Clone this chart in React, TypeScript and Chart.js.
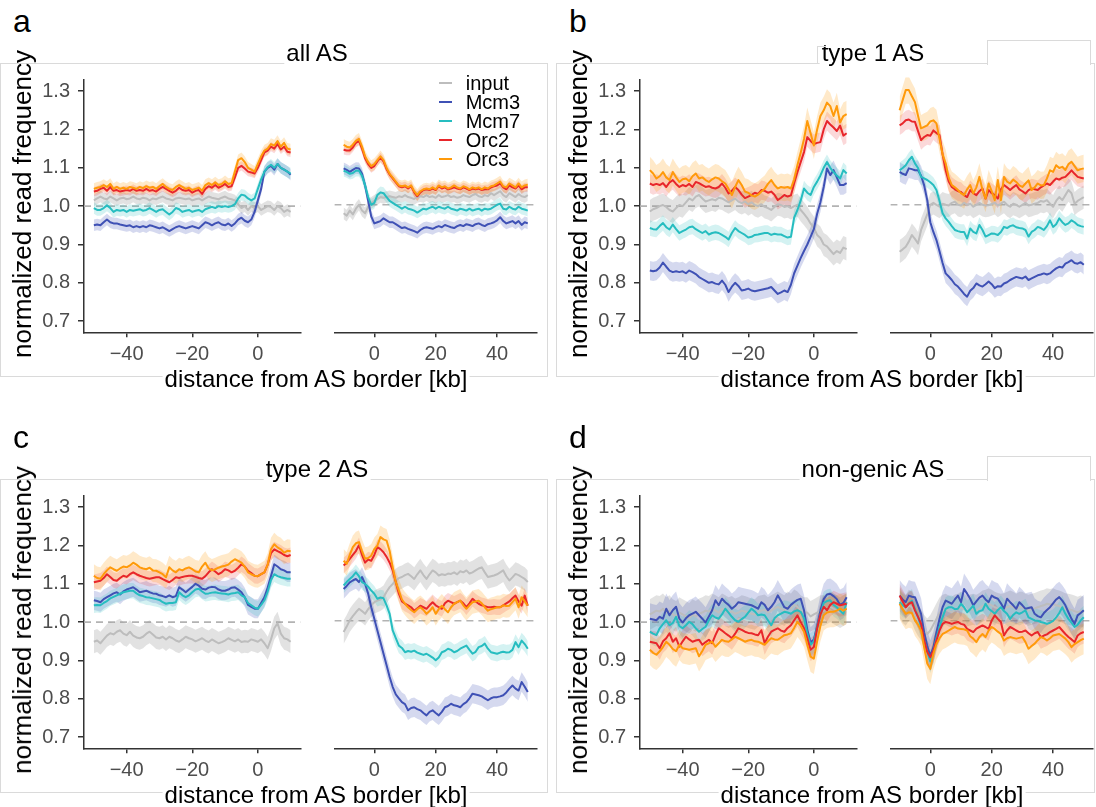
import React, { useEffect, useRef } from "react";
import { Chart, registerables } from "chart.js";
Chart.register(...registerables);

const FONT = "'Liberation Sans', Arial, Helvetica, sans-serif";
const SERIES = ["input", "Mcm3", "Mcm7", "Orc2", "Orc3"];
const LINE_COLORS = ["#BDBDBD", "#3F51B5", "#26BDC0", "#E8262B", "#FF9A0A"];
const BAND_COLORS = [
  "rgba(150,150,150,0.28)",
  "rgba(63,81,181,0.22)",
  "rgba(38,189,192,0.2)",
  "rgba(232,38,43,0.18)",
  "rgba(255,154,10,0.22)",
];
const Y_TICKS = [0.7, 0.8, 0.9, 1.0, 1.1, 1.2, 1.3];
const X_TICKS_LEFT = [-40, -20, 0];
const X_TICKS_RIGHT = [0, 20, 40];
const KB_LEFT = Array.from({ length: 61 }, (_, i) => i - 50);
const KB_RIGHT = Array.from({ length: 61 }, (_, i) => i - 10);
const X_RANGE_LEFT = [-53, 13];
const X_RANGE_RIGHT = [-13, 53];
const Y_RANGE = [0.671, 1.329];

// ---------- panel a: all AS ----------
const aLeftInput = [1.015,1.02,1.025,1.02,1.018,1.025,1.02,1.015,1.02,1.022, 1.018,1.02,1.025,1.02,1.018,1.022,1.02,1.015,1.02,1.018, 1.022,1.025,1.02,1.018,1.015,1.02,1.022,1.02,1.018,1.02, 1.015,1.018,1.02,1.015,1.02,1.025,1.022,1.02,1.018,1.022, 1.025,1.02,1.018,1.015,1.005,0.995,1.0,0.99,1.0,0.995, 1.0,0.99,0.995,1.0,0.998,0.99,1.0,0.995,0.985,0.99,0.985];
const aLeftMcm3 = [0.95,0.952,0.95,0.958,0.965,0.958,0.955,0.955,0.952,0.95, 0.948,0.95,0.945,0.948,0.945,0.948,0.945,0.95,0.948,0.945, 0.942,0.945,0.94,0.935,0.94,0.945,0.948,0.945,0.942,0.945, 0.948,0.945,0.942,0.95,0.958,0.955,0.95,0.955,0.958,0.952, 0.95,0.955,0.948,0.955,0.965,0.97,0.962,0.958,0.965,0.985, 1.015,1.045,1.09,1.1,1.105,1.095,1.11,1.1,1.095,1.09,1.082];
const aLeftMcm7 = [0.995,0.99,0.99,0.995,1.002,0.995,0.985,0.99,0.988,0.99, 0.985,0.99,0.988,0.99,0.992,0.988,0.99,0.995,0.99,0.985, 0.99,0.992,0.985,0.978,0.985,0.995,0.992,0.985,0.988,0.99, 0.985,0.988,0.99,0.985,0.992,0.995,0.998,0.995,1.0,0.998, 1.0,0.998,1.0,1.005,1.02,1.03,1.028,1.02,1.015,1.02, 1.045,1.07,1.09,1.102,1.108,1.1,1.11,1.1,1.095,1.09,1.085];
const aLeftOrc2 = [1.038,1.04,1.045,1.048,1.04,1.05,1.04,1.042,1.038,1.04, 1.042,1.04,1.045,1.04,1.042,1.04,1.045,1.04,1.042,1.038, 1.045,1.05,1.045,1.04,1.035,1.04,1.048,1.042,1.04,1.042, 1.035,1.04,1.042,1.032,1.045,1.052,1.048,1.055,1.048,1.052, 1.058,1.05,1.052,1.075,1.1,1.105,1.098,1.09,1.088,1.085, 1.1,1.12,1.14,1.145,1.155,1.15,1.162,1.148,1.155,1.142,1.14];
const aLeftOrc3 = [1.045,1.048,1.05,1.055,1.05,1.058,1.045,1.05,1.045,1.048, 1.045,1.05,1.048,1.045,1.05,1.047,1.052,1.048,1.05,1.045, 1.052,1.058,1.05,1.045,1.042,1.05,1.055,1.05,1.045,1.048, 1.042,1.045,1.048,1.04,1.055,1.06,1.055,1.062,1.055,1.058, 1.065,1.058,1.06,1.09,1.12,1.125,1.115,1.1,1.095,1.09, 1.11,1.13,1.145,1.15,1.162,1.158,1.17,1.155,1.165,1.15,1.148];
const aRightInput = [0.978,0.972,0.985,0.975,0.99,1.0,0.985,0.978,0.995,1.005, 1.01,1.015,1.02,1.018,1.02,1.022,1.02,1.018,1.022,1.02, 1.025,1.02,1.018,1.015,1.02,1.022,1.02,1.025,1.02,1.022, 1.018,1.025,1.02,1.022,1.025,1.02,1.022,1.018,1.02,1.025, 1.022,1.02,1.025,1.028,1.022,1.02,1.025,1.022,1.03,1.025, 1.03,1.035,1.025,1.02,1.03,1.025,1.02,1.028,1.022,1.02,1.025];
const aRightMcm3 = [1.094,1.09,1.085,1.09,1.095,1.094,1.08,1.05,1.01,0.97, 0.952,0.955,0.958,0.965,0.96,0.955,0.955,0.95,0.945,0.94, 0.942,0.938,0.935,0.932,0.928,0.935,0.94,0.942,0.94,0.938, 0.942,0.945,0.942,0.948,0.945,0.942,0.94,0.945,0.948,0.945, 0.95,0.948,0.945,0.95,0.952,0.948,0.945,0.95,0.952,0.955, 0.96,0.968,0.958,0.952,0.955,0.958,0.952,0.958,0.948,0.955,0.952];
const aRightMcm7 = [1.088,1.085,1.08,1.082,1.088,1.088,1.075,1.05,1.02,1.0, 1.005,1.025,1.032,1.03,1.02,1.01,1.005,1.0,0.995,0.99, 0.995,0.99,0.988,0.985,0.98,0.985,0.99,0.988,0.992,0.995, 0.99,0.995,0.992,0.99,0.995,0.99,0.988,0.985,0.99,0.988, 0.985,0.99,0.985,0.988,0.99,0.985,0.99,0.988,0.99,0.995, 1.0,1.003,0.99,0.988,0.995,0.99,0.988,0.995,0.99,0.988,0.985];
const aRightOrc2 = [1.142,1.14,1.14,1.148,1.16,1.165,1.145,1.12,1.105,1.095, 1.1,1.112,1.122,1.112,1.092,1.078,1.068,1.058,1.048,1.045, 1.048,1.042,1.048,1.032,1.022,1.032,1.038,1.04,1.038,1.042, 1.038,1.048,1.042,1.045,1.04,1.042,1.045,1.042,1.04,1.045, 1.042,1.038,1.042,1.04,1.042,1.038,1.04,1.04,1.045,1.048, 1.05,1.055,1.045,1.04,1.05,1.045,1.042,1.05,1.04,1.045,1.045];
const aRightOrc3 = [1.155,1.15,1.148,1.155,1.165,1.17,1.15,1.125,1.11,1.1, 1.105,1.115,1.125,1.115,1.095,1.08,1.07,1.06,1.05,1.048, 1.05,1.045,1.05,1.035,1.025,1.035,1.04,1.042,1.04,1.045, 1.04,1.05,1.045,1.048,1.042,1.045,1.05,1.045,1.042,1.048, 1.045,1.04,1.045,1.042,1.045,1.04,1.045,1.042,1.048,1.05, 1.055,1.06,1.048,1.045,1.055,1.05,1.045,1.055,1.045,1.05,1.052];
const aBand = [0.015, 0.015, 0.015, 0.012, 0.015];

// ---------- panel b: type 1 AS ----------
const bLeftInput = [0.986,0.992,0.995,1.0,1.003,0.998,0.99,0.986,0.995,1.003, 1.0,1.01,1.02,1.015,1.025,1.029,1.02,1.012,1.015,1.018, 1.015,1.022,1.02,1.015,1.01,1.015,1.02,1.012,1.008,1.012, 1.005,1.01,1.003,1.0,1.005,0.998,0.995,0.99,0.998,1.005, 1.003,0.998,1.0,0.995,1.0,1.003,0.99,0.98,0.969,0.955, 0.943,0.925,0.917,0.9,0.895,0.885,0.875,0.883,0.878,0.892,0.888];
const bLeftMcm3 = [0.832,0.83,0.832,0.84,0.853,0.842,0.832,0.828,0.83,0.828, 0.83,0.825,0.832,0.828,0.823,0.815,0.81,0.805,0.8,0.802, 0.798,0.796,0.806,0.795,0.776,0.79,0.8,0.792,0.78,0.782, 0.785,0.78,0.778,0.78,0.782,0.784,0.786,0.789,0.78,0.771, 0.775,0.78,0.776,0.795,0.825,0.845,0.865,0.883,0.9,0.92, 0.94,0.98,1.01,1.05,1.098,1.081,1.094,1.075,1.055,1.055,1.06];
const bLeftMcm7 = [0.943,0.94,0.939,0.948,0.956,0.945,0.939,0.952,0.94,0.93, 0.935,0.939,0.945,0.947,0.94,0.935,0.93,0.935,0.926,0.93, 0.932,0.93,0.925,0.92,0.913,0.93,0.943,0.935,0.93,0.925, 0.918,0.92,0.925,0.926,0.928,0.93,0.93,0.925,0.928,0.926, 0.926,0.922,0.918,0.92,0.97,0.99,1.015,1.046,1.035,1.029, 1.05,1.064,1.08,1.1,1.115,1.1,1.089,1.08,1.072,1.094,1.085];
const bLeftOrc2 = [1.059,1.055,1.058,1.055,1.06,1.05,1.062,1.068,1.058,1.05, 1.055,1.052,1.058,1.05,1.063,1.06,1.055,1.05,1.052,1.048, 1.046,1.05,1.059,1.048,1.033,1.04,1.05,1.042,1.03,1.021, 1.025,1.029,1.035,1.032,1.042,1.04,1.035,1.038,1.03,1.016, 1.022,1.029,1.025,1.028,1.06,1.089,1.115,1.141,1.18,1.17, 1.162,1.165,1.167,1.2,1.222,1.213,1.205,1.196,1.21,1.184,1.19];
const bLeftOrc3 = [1.094,1.085,1.072,1.078,1.089,1.075,1.068,1.089,1.075,1.063, 1.07,1.072,1.065,1.078,1.085,1.072,1.075,1.068,1.063,1.07, 1.075,1.072,1.065,1.059,1.045,1.029,1.05,1.068,1.055,1.038, 1.035,1.028,1.025,1.03,1.038,1.045,1.058,1.068,1.055,1.046, 1.05,1.048,1.05,1.046,1.07,1.107,1.14,1.175,1.222,1.19, 1.158,1.2,1.235,1.25,1.27,1.261,1.235,1.261,1.218,1.235,1.24];
const bRightInput = [0.879,0.885,0.892,0.905,0.922,0.912,0.9,0.935,0.955,0.975, 1.0,1.005,1.0,0.995,1.003,1.0,0.998,1.005,1.008,1.0, 0.998,1.005,1.0,1.003,0.995,1.0,1.005,1.0,0.998,0.999, 1.002,1.005,0.998,1.003,1.008,1.0,0.995,1.003,1.0,0.995, 1.0,1.005,0.998,1.0,1.003,1.005,1.01,1.008,1.012,1.003, 0.995,1.01,1.02,1.012,1.025,1.038,1.03,1.003,1.01,1.015,1.02];
const bRightMcm3 = [1.085,1.08,1.077,1.094,1.092,1.089,1.089,1.075,1.05,1.012, 0.955,0.93,0.909,0.88,0.85,0.823,0.815,0.806,0.795,0.789, 0.78,0.77,0.763,0.778,0.785,0.797,0.792,0.789,0.795,0.802, 0.795,0.785,0.79,0.789,0.797,0.8,0.806,0.81,0.814,0.812, 0.81,0.815,0.806,0.81,0.814,0.818,0.82,0.823,0.82,0.823, 0.83,0.836,0.84,0.838,0.848,0.852,0.857,0.85,0.848,0.852,0.845];
const bRightMcm7 = [1.089,1.095,1.102,1.115,1.124,1.107,1.095,1.072,1.068,1.064, 1.058,1.051,1.038,1.01,0.978,0.965,0.956,0.945,0.935,0.932, 0.93,0.93,0.913,0.939,0.93,0.926,0.948,0.935,0.918,0.922, 0.926,0.925,0.922,0.93,0.943,0.94,0.945,0.947,0.942,0.94, 0.939,0.935,0.918,0.93,0.935,0.943,0.94,0.935,0.945,0.96, 0.943,0.95,0.965,0.955,0.948,0.952,0.96,0.955,0.948,0.945,0.943];
const bRightOrc2 = [1.205,1.21,1.218,1.22,1.215,1.214,1.19,1.167,1.175,1.18, 1.178,1.192,1.185,1.18,1.13,1.089,1.06,1.046,1.04,1.035, 1.033,1.025,1.02,1.038,1.03,1.025,1.035,1.042,1.016,1.038, 1.03,1.025,1.016,1.04,1.051,1.045,1.038,1.045,1.051,1.04, 1.035,1.029,1.038,1.042,1.04,1.038,1.045,1.05,1.055,1.051, 1.06,1.068,1.065,1.07,1.072,1.08,1.089,1.08,1.072,1.07,1.068];
const bRightOrc3 = [1.244,1.27,1.296,1.296,1.28,1.265,1.23,1.197,1.201,1.205, 1.215,1.218,1.21,1.17,1.13,1.107,1.07,1.051,1.045,1.038, 1.03,1.025,1.04,1.051,1.029,1.045,1.072,1.038,1.016,1.055, 1.035,1.012,1.064,1.012,1.072,1.06,1.055,1.065,1.059,1.05, 1.046,1.055,1.063,1.038,1.045,1.055,1.05,1.051,1.068,1.089, 1.085,1.102,1.095,1.098,1.09,1.105,1.111,1.1,1.089,1.092,1.094];
const bBand = [0.03, 0.025, 0.02, 0.025, 0.035];

// ---------- panel c: type 2 AS ----------
const cLeftInput = [0.949,0.952,0.945,0.955,0.965,0.971,0.968,0.975,0.979,0.97, 0.966,0.975,0.965,0.96,0.958,0.962,0.97,0.975,0.968,0.96, 0.958,0.962,0.955,0.962,0.958,0.952,0.949,0.955,0.962,0.958, 0.955,0.95,0.954,0.958,0.952,0.948,0.955,0.95,0.945,0.948, 0.952,0.958,0.954,0.95,0.955,0.948,0.95,0.949,0.955,0.952, 0.949,0.955,0.945,0.932,0.955,0.984,0.997,0.97,0.958,0.955,0.949];
const cLeftMcm3 = [1.057,1.055,1.052,1.06,1.065,1.07,1.075,1.078,1.072,1.08, 1.085,1.088,1.091,1.085,1.078,1.08,1.082,1.078,1.075,1.074, 1.07,1.068,1.065,1.07,1.065,1.068,1.091,1.085,1.078,1.085, 1.092,1.1,1.095,1.087,1.085,1.09,1.092,1.091,1.085,1.082, 1.082,1.085,1.09,1.091,1.085,1.078,1.065,1.045,1.04,1.035, 1.035,1.05,1.065,1.09,1.12,1.151,1.145,1.138,1.135,1.13,1.13];
const cLeftMcm7 = [1.044,1.045,1.044,1.05,1.055,1.062,1.066,1.07,1.074,1.078, 1.08,1.082,1.082,1.075,1.07,1.068,1.065,1.064,1.062,1.06, 1.058,1.052,1.048,1.05,1.05,1.052,1.078,1.07,1.065,1.07, 1.078,1.085,1.087,1.08,1.074,1.075,1.077,1.078,1.076,1.075, 1.074,1.072,1.075,1.076,1.078,1.07,1.065,1.05,1.044,1.038, 1.035,1.045,1.057,1.08,1.11,1.125,1.12,1.117,1.115,1.113,1.113];
const cLeftOrc2 = [1.104,1.106,1.108,1.115,1.125,1.118,1.11,1.108,1.115,1.121, 1.118,1.125,1.13,1.125,1.121,1.118,1.115,1.113,1.115,1.117, 1.117,1.112,1.108,1.104,1.11,1.117,1.115,1.118,1.12,1.121, 1.121,1.118,1.115,1.113,1.12,1.13,1.138,1.132,1.125,1.13, 1.138,1.135,1.13,1.134,1.142,1.151,1.145,1.134,1.128,1.121, 1.12,1.125,1.13,1.15,1.18,1.19,1.185,1.181,1.175,1.172,1.175];
const cLeftOrc3 = [1.121,1.115,1.113,1.125,1.135,1.143,1.138,1.134,1.14,1.145, 1.143,1.148,1.155,1.15,1.143,1.14,1.138,1.142,1.135,1.134, 1.13,1.125,1.117,1.143,1.135,1.13,1.138,1.135,1.14,1.143, 1.138,1.132,1.13,1.145,1.155,1.14,1.135,1.138,1.142,1.145, 1.147,1.15,1.158,1.164,1.16,1.155,1.145,1.13,1.125,1.121, 1.12,1.125,1.13,1.15,1.19,1.203,1.195,1.19,1.181,1.186,1.185];
const cRightInput = [0.971,0.985,1.001,1.012,1.022,1.031,1.025,1.018,1.03,1.04, 1.048,1.052,1.055,1.061,1.075,1.087,1.095,1.104,1.11,1.113, 1.118,1.121,1.115,1.108,1.12,1.13,1.118,1.108,1.12,1.13, 1.125,1.117,1.12,1.118,1.122,1.121,1.125,1.12,1.128,1.125, 1.13,1.122,1.125,1.13,1.135,1.138,1.125,1.113,1.115,1.117, 1.12,1.125,1.13,1.115,1.104,1.112,1.121,1.118,1.113,1.108,1.1];
const cRightMcm3 = [1.082,1.09,1.099,1.104,1.108,1.1,1.113,1.095,1.07,1.035, 1.005,0.975,0.945,0.915,0.885,0.855,0.829,0.81,0.8,0.79, 0.785,0.769,0.775,0.777,0.772,0.769,0.762,0.756,0.765,0.769, 0.762,0.756,0.765,0.777,0.78,0.786,0.782,0.78,0.777,0.785, 0.79,0.8,0.812,0.81,0.808,0.805,0.8,0.795,0.8,0.803, 0.803,0.805,0.808,0.815,0.825,0.833,0.825,0.82,0.842,0.83,0.816];
const cRightMcm7 = [1.091,1.1,1.108,1.115,1.125,1.115,1.1,1.095,1.088,1.078, 1.07,1.057,1.06,1.058,1.04,1.018,0.975,0.955,0.936,0.93, 0.919,0.922,0.92,0.923,0.918,0.915,0.912,0.915,0.91,0.905, 0.898,0.905,0.919,0.922,0.928,0.925,0.919,0.922,0.928,0.932, 0.936,0.925,0.915,0.92,0.932,0.935,0.941,0.928,0.919,0.917, 0.915,0.918,0.92,0.918,0.919,0.925,0.945,0.932,0.949,0.94,0.928];
const cRightOrc2 = [1.143,1.15,1.16,1.17,1.18,1.195,1.17,1.15,1.158,1.155, 1.17,1.19,1.185,1.177,1.165,1.15,1.13,1.1,1.07,1.05, 1.044,1.04,1.035,1.026,1.032,1.039,1.035,1.031,1.04,1.048, 1.04,1.035,1.031,1.045,1.052,1.048,1.044,1.048,1.052,1.045, 1.035,1.045,1.057,1.05,1.044,1.04,1.038,1.035,1.035,1.036, 1.035,1.035,1.04,1.045,1.05,1.058,1.065,1.05,1.039,1.065,1.039];
const cRightOrc3 = [1.155,1.147,1.17,1.19,1.2,1.203,1.18,1.16,1.162,1.168, 1.185,1.194,1.216,1.21,1.207,1.18,1.138,1.1,1.078,1.055, 1.044,1.035,1.028,1.022,1.03,1.035,1.028,1.018,1.025,1.035, 1.018,1.03,1.039,1.03,1.022,1.035,1.044,1.048,1.052,1.04, 1.031,1.04,1.048,1.05,1.052,1.045,1.035,1.026,1.03,1.032, 1.035,1.035,1.04,1.038,1.039,1.048,1.057,1.035,1.061,1.05,1.039];
const cBand = [0.03, 0.025, 0.02, 0.02, 0.03];

// ---------- panel d: non-genic AS ----------
const dLeftInput = [1.02,1.025,1.03,1.028,1.035,1.025,1.03,1.02,1.015,1.025, 1.02,1.015,1.01,1.02,1.015,1.022,1.025,1.03,1.028,1.035, 1.03,1.025,1.035,1.03,1.025,1.028,1.022,1.025,1.03,1.028, 1.025,1.022,1.02,1.028,1.03,1.032,1.025,1.03,1.035,1.04, 1.035,1.03,1.04,1.035,1.045,1.04,1.03,1.025,1.025,1.015, 1.02,1.025,1.03,1.03,1.035,1.04,1.035,1.03,1.025,1.03,1.035];
const dLeftMcm3 = [1.009,1.007,1.005,1.014,1.009,1.035,1.018,1.031,1.04,1.009, 0.999,1.01,1.018,1.022,1.027,1.018,1.009,0.999,1.015,1.031, 1.057,1.044,1.061,1.052,1.045,1.035,1.042,1.052,1.05,1.048, 1.046,1.044,1.04,1.035,1.052,1.045,1.031,1.04,1.052,1.07, 1.055,1.039,1.035,1.045,1.052,1.058,1.061,1.031,0.98,0.947, 0.955,0.99,1.03,1.06,1.072,1.074,1.068,1.06,1.045,1.05,1.065];
const dLeftMcm7 = [0.975,0.97,0.966,0.984,0.995,1.005,0.992,0.998,1.014,0.99, 0.984,0.992,1.001,0.995,0.984,0.975,0.982,0.988,1.005,1.018, 1.012,1.009,1.02,1.035,1.025,1.014,1.005,1.001,1.008,1.014, 1.025,1.035,1.028,1.018,1.02,1.018,1.005,0.992,1.01,1.018, 1.022,1.027,1.025,1.022,1.028,1.031,1.027,1.01,0.97,0.941, 0.95,0.985,1.02,1.05,1.055,1.057,1.045,1.039,1.03,1.022,1.052];
const dLeftOrc2 = [0.949,0.947,0.945,0.932,0.95,0.958,0.971,0.949,0.958,0.936, 0.95,0.962,0.955,0.949,0.952,0.954,0.941,0.948,0.954,0.945, 0.966,0.984,0.978,0.971,0.965,0.958,0.97,0.984,0.98,0.975, 0.972,0.971,0.968,0.966,0.979,0.945,0.962,0.975,0.98,0.984, 0.978,0.975,0.985,0.992,1.005,1.018,1.0,0.984,0.958,0.928, 0.935,0.984,1.02,1.04,1.031,1.045,1.052,1.048,1.044,1.046,1.048];
const dLeftOrc3 = [0.928,0.92,0.915,0.924,0.935,0.949,0.941,0.93,0.924,0.941, 0.932,0.93,0.928,0.93,0.932,0.911,0.925,0.941,0.945,0.949, 0.936,0.945,0.954,0.95,0.949,0.955,0.962,0.958,0.954,0.949, 0.952,0.954,0.95,0.949,0.945,0.941,0.95,0.958,0.955,0.954, 0.96,0.966,0.968,0.971,0.985,1.001,0.99,0.975,0.941,0.91, 0.905,0.95,0.99,1.018,1.025,1.027,1.027,1.03,1.035,1.03,1.035];
const dRightInput = [1.048,1.035,1.027,1.04,1.035,1.015,1.001,0.99,0.975,0.966, 0.975,0.99,1.005,1.02,1.027,1.03,1.025,1.022,1.028,1.03, 1.035,1.03,1.025,1.028,1.03,1.027,1.032,1.038,1.04,1.044, 1.04,1.035,1.032,1.03,1.031,1.035,1.038,1.035,1.03,1.035, 1.035,1.03,1.027,1.03,1.032,1.035,1.038,1.04,1.044,1.042, 1.044,1.04,1.038,1.035,1.031,1.03,1.028,1.025,1.022,1.025,1.022];
const dRightMcm3 = [1.065,1.055,1.048,1.065,1.062,1.061,1.04,1.018,0.97,0.935, 0.91,0.932,0.97,1.005,1.035,1.052,1.048,1.044,1.055,1.065, 1.048,1.082,1.07,1.057,1.04,1.05,1.06,1.065,1.055,1.048, 1.065,1.06,1.057,1.045,1.031,1.057,1.048,1.04,1.031,1.048, 1.04,1.031,1.033,1.035,1.018,1.012,1.009,1.02,1.028,1.035, 1.045,1.055,1.061,1.052,1.04,1.022,1.005,0.992,1.014,1.02,1.027];
const dRightMcm7 = [1.048,1.04,1.035,1.045,1.052,1.031,1.01,0.984,0.95,0.92, 0.895,0.92,0.955,0.984,1.009,1.031,1.035,1.035,1.03,1.031, 1.044,1.035,1.022,1.03,1.039,1.018,1.025,1.027,1.044,1.031, 1.025,1.018,1.028,1.035,1.025,1.018,1.005,1.015,1.022,1.018, 1.022,1.027,1.009,1.005,1.001,1.0,0.997,0.995,0.992,0.995, 1.0,1.009,1.02,1.035,1.018,1.005,0.995,0.984,0.99,1.001,1.009];
const dRightOrc2 = [1.065,1.05,1.035,1.044,1.048,1.027,1.01,0.992,0.95,0.92, 0.906,0.923,0.95,0.975,0.992,0.997,0.995,0.992,0.995,0.997, 0.992,0.99,0.979,0.975,0.971,0.98,0.984,0.988,0.984,0.979, 1.001,1.014,1.005,0.997,0.962,0.975,0.984,0.98,0.975,0.971, 0.972,0.975,0.968,0.962,0.968,0.971,0.958,0.962,0.965,0.971, 0.975,0.979,0.984,0.975,0.966,0.958,0.952,0.945,0.962,0.968,0.971];
const dRightOrc3 = [1.044,1.03,1.018,1.022,1.02,1.001,0.99,0.975,0.932,0.89, 0.876,0.915,0.94,0.955,0.966,0.97,0.975,0.98,0.984,0.98, 0.979,0.978,0.975,0.96,0.954,0.945,0.958,0.966,0.958,0.975, 0.984,0.979,0.972,0.966,0.949,0.955,0.958,0.956,0.954,0.956, 0.958,0.945,0.928,0.935,0.941,0.95,0.958,0.955,0.949,0.955, 0.962,0.964,0.966,0.96,0.954,0.945,0.932,0.94,0.945,0.95,0.954];
const dBand = [0.04, 0.04, 0.03, 0.03, 0.04];

const PANELS = [
  { letter: "a", title: "all AS", ox: 0, oy: 0, legend: true,
    left: [aLeftInput, aLeftMcm3, aLeftMcm7, aLeftOrc2, aLeftOrc3],
    right: [aRightInput, aRightMcm3, aRightMcm7, aRightOrc2, aRightOrc3], band: aBand },
  { letter: "b", title: "type 1 AS", ox: 556, oy: 0, legend: false,
    left: [bLeftInput, bLeftMcm3, bLeftMcm7, bLeftOrc2, bLeftOrc3],
    right: [bRightInput, bRightMcm3, bRightMcm7, bRightOrc2, bRightOrc3], band: bBand },
  { letter: "c", title: "type 2 AS", ox: 0, oy: 416, legend: false,
    left: [cLeftInput, cLeftMcm3, cLeftMcm7, cLeftOrc2, cLeftOrc3],
    right: [cRightInput, cRightMcm3, cRightMcm7, cRightOrc2, cRightOrc3], band: cBand },
  { letter: "d", title: "non-genic AS", ox: 556, oy: 416, legend: false,
    left: [dLeftInput, dLeftMcm3, dLeftMcm7, dLeftOrc2, dLeftOrc3],
    right: [dRightInput, dRightMcm3, dRightMcm7, dRightOrc2, dRightOrc3], band: dBand },
];

const minus = (v: number) => (v < 0 ? "\u2212" + Math.abs(v) : String(v));

type SubProps = {
  left: number; top: number; width: number; height: number;
  padL: number; padR: number; padT: number; axisH: number; yAxisW: number;
  showY: boolean; kb: number[]; series: number[][]; band: number[];
  xRange: number[]; xTicks: number[];
};

function SubPlot(p: SubProps) {
  const ref = useRef<HTMLCanvasElement>(null);
  useEffect(() => {
    const datasets: any[] = [];
    datasets.push({
      data: [{ x: p.xRange[0], y: 1 }, { x: p.xRange[1], y: 1 }],
      borderColor: "#B3B3B3", borderWidth: 1.6, borderDash: [7, 5],
      pointRadius: 0, fill: false, order: 100,
    });
    p.series.forEach((vals, s) => {
      datasets.push({
        data: p.kb.map((x, i) => ({ x, y: vals[i] - p.band[s] })),
        borderWidth: 0, borderColor: "rgba(0,0,0,0)", pointRadius: 0, fill: false, order: 60 - s,
      });
      datasets.push({
        data: p.kb.map((x, i) => ({ x, y: vals[i] + p.band[s] })),
        borderWidth: 0, borderColor: "rgba(0,0,0,0)", pointRadius: 0, fill: "-1",
        backgroundColor: BAND_COLORS[s], order: 60 - s,
      });
    });
    p.series.forEach((vals, s) => {
      datasets.push({
        label: SERIES[s],
        data: p.kb.map((x, i) => ({ x, y: vals[i] })),
        borderColor: LINE_COLORS[s], borderWidth: 2, pointRadius: 0, fill: false,
        order: 10 - s, borderJoinStyle: "round",
      });
    });
    const chart = new Chart(ref.current as HTMLCanvasElement, {
      type: "line",
      data: { datasets },
      options: {
        animation: false, responsive: false, devicePixelRatio: 1, events: [],
        layout: { padding: { left: p.padL, right: p.padR, top: p.padT, bottom: 0 } },
        plugins: { legend: { display: false }, tooltip: { enabled: false } },
        elements: { line: { tension: 0 } },
        scales: {
          x: {
            type: "linear", min: p.xRange[0], max: p.xRange[1],
            afterBuildTicks: (s: any) => { s.ticks = p.xTicks.map((v) => ({ value: v })); },
            afterFit: (s: any) => { s.height = p.axisH; },
            grid: { display: true, drawOnChartArea: false, drawTicks: true, tickLength: 5, color: "#333333", lineWidth: 1.5 },
            border: { display: true, color: "#333333", width: 1.5 },
            ticks: { color: "#4D4D4D", font: { family: FONT, size: 20 }, padding: 5, maxRotation: 0, autoSkip: false,
              callback: (v: any) => minus(Number(v)) },
          },
          y: {
            type: "linear", min: Y_RANGE[0], max: Y_RANGE[1], display: p.showY,
            afterBuildTicks: (s: any) => { s.ticks = Y_TICKS.map((v) => ({ value: v })); },
            afterFit: (s: any) => { s.width = p.yAxisW; },
            grid: { display: true, drawOnChartArea: false, drawTicks: true, tickLength: 6, color: "#333333", lineWidth: 1.5 },
            border: { display: true, color: "#333333", width: 1.5 },
            ticks: { color: "#4D4D4D", font: { family: FONT, size: 20 }, padding: 8,
              callback: (v: any) => Number(v).toFixed(1) },
          },
        },
      } as any,
    });
    return () => chart.destroy();
  }, []);
  return (
    <canvas ref={ref} width={p.width} height={p.height}
      style={{ position: "absolute", left: p.left, top: p.top, width: p.width, height: p.height }} />
  );
}

const FRAME = "#DADADA";

function Panel({ panel }: { panel: any }) {
  const { ox, oy } = panel;
  const text = (extra: any) => ({ position: "absolute" as const, fontFamily: FONT, color: "#000", whiteSpace: "nowrap" as const, ...extra });
  return (
    <>
      <div style={{ position: "absolute", left: ox, top: oy + 63, width: ox === 0 ? 548 : 539, height: 314, border: `1px solid ${FRAME}`, boxSizing: "border-box" }} />
      <SubPlot left={ox} top={oy + 60} width={310} height={310} padL={0} padR={9.5} padT={17.3} axisH={37.7} yAxisW={84}
        showY={true} kb={KB_LEFT} series={panel.left} band={panel.band} xRange={X_RANGE_LEFT} xTicks={X_TICKS_LEFT} />
      <SubPlot left={ox + 320} top={oy + 60} width={220} height={310} padL={14.4} padR={3} padT={17.3} axisH={37.7} yAxisW={0}
        showY={false} kb={KB_RIGHT} series={panel.right} band={panel.band} xRange={X_RANGE_RIGHT} xTicks={X_TICKS_RIGHT} />
      <div style={text({ left: ox + 13, top: oy + 5, fontSize: 32, lineHeight: "32px" })}>{panel.letter}</div>
      <div style={text({ left: ox + 317, top: oy + 40.7, fontSize: 24, lineHeight: "24px", transform: "translateX(-50%)", background: "#fff", padding: "0 2px" })}>{panel.title}</div>
      <div style={text({ left: ox + 316, top: oy + 367.4, fontSize: 24, lineHeight: "24px", transform: "translateX(-50%)", background: "#fff", padding: "0 2px" })}>distance from AS border [kb]</div>
      <div style={text({ left: ox + 21.8, top: oy + 204, fontSize: 26, lineHeight: "26px", transform: "translate(-50%,-50%) rotate(-90deg)" })}>normalized read frequency</div>
      {panel.legend && SERIES.map((name, i) => (
        <React.Fragment key={name}>
          <div style={{ position: "absolute", left: ox + 439, top: oy + 82.3 + 19 * i, width: 13, height: 2, background: LINE_COLORS[i] }} />
          <div style={text({ left: ox + 465.7, top: oy + 74.1 + 19 * i, fontSize: 20, lineHeight: "19px" })}>{name}</div>
        </React.Fragment>
      ))}
    </>
  );
}

export default function App() {
  return (
    <div style={{ position: "absolute", left: 0, top: 0, width: 1096, height: 807, overflow: "hidden", background: "#fff" }}>
      {PANELS.map((p) => <Panel key={p.letter} panel={p} />)}
      {/* stray frame boxes from the source figure */}
      <div style={{ position: "absolute", left: 817, top: 46, width: 8, height: 17, borderLeft: `1px solid ${FRAME}`, borderTop: `1px solid ${FRAME}` }} />
      <div style={{ position: "absolute", left: 987, top: 40, width: 102, height: 24, borderLeft: `1px solid ${FRAME}`, borderTop: `1px solid ${FRAME}`, borderRight: `1px solid ${FRAME}`, background: "#fff" }} />
      <div style={{ position: "absolute", left: 987, top: 456, width: 102, height: 24, borderLeft: `1px solid ${FRAME}`, borderTop: `1px solid ${FRAME}`, borderRight: `1px solid ${FRAME}`, background: "#fff" }} />
    </div>
  );
}
